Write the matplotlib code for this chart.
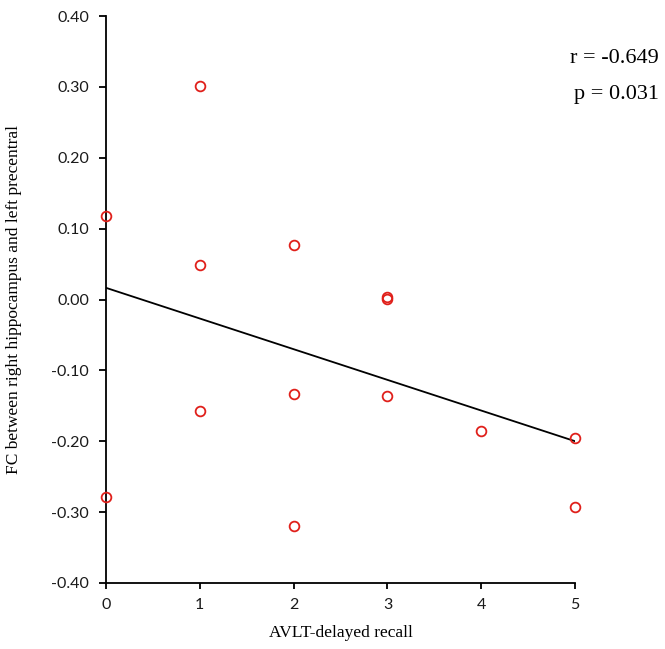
import matplotlib
matplotlib.use("Agg")
import matplotlib.pyplot as plt
import numpy as np

recall = [0, 0, 1, 1, 1, 2, 2, 2, 3, 3, 3, 4, 5, 5]
fc = [0.118, -0.279, 0.301, 0.048, -0.158, 0.077, -0.134, -0.320,
      0.003, 0.001, -0.136, -0.186, -0.196, -0.293]
x_ticks = [0, 1, 2, 3, 4, 5]
y_ticks = [-0.4, -0.3, -0.2, -0.1, 0.0, 0.1, 0.2, 0.3, 0.4]
r_text = "r = -0.649"
p_text = "p = 0.031"

fig = plt.figure(figsize=(6.65, 6.49), dpi=100)
ax = fig.add_axes([0.159, 0.1017, 0.706, 0.8736])

ax.plot(recall, fc, linestyle="none", marker="o", markersize=7,
        markerfacecolor="none", markeredgecolor="#e0201b", markeredgewidth=1.3,
        clip_on=False, zorder=3)

slope, intercept = np.polyfit(recall, fc, 1)
xs = np.array([min(x_ticks), max(x_ticks)])
ax.plot(xs, slope * xs + intercept, color="black", linewidth=1.3, zorder=2)

ax.set_xlim(0, 5)
ax.set_ylim(-0.4, 0.4)
ax.set_xticks(x_ticks)
ax.set_yticks(y_ticks)
ax.set_xticklabels([str(t) for t in x_ticks], fontfamily="Lato", fontsize=11.5)
ax.set_yticklabels([f"{t:.2f}" for t in y_ticks], fontfamily="Lato", fontsize=11.5)

for s in ["top", "right"]:
    ax.spines[s].set_visible(False)
for s in ["left", "bottom"]:
    ax.spines[s].set_linewidth(1.3)
    ax.spines[s].set_color("black")
ax.tick_params(axis="y", direction="out", length=5, width=1.3, pad=7,
               color="black", labelcolor="#1a1a1a")
ax.tick_params(axis="x", direction="out", length=4, width=1.3, pad=7,
               color="black", labelcolor="#1a1a1a")

ax.set_xlabel("AVLT-delayed recall", fontfamily="Liberation Serif", fontsize=12.5, labelpad=9)
ax.set_ylabel("FC between right hippocampus and left precentral",
              fontfamily="Liberation Serif", fontsize=12.5, labelpad=21)

fig.text(0.991, 0.91, r_text, ha="right", va="center",
         fontfamily="Liberation Serif", fontsize=16)
fig.text(0.991, 0.854, p_text, ha="right", va="center",
         fontfamily="Liberation Serif", fontsize=16)

fig.savefig("out.png", dpi=100)
